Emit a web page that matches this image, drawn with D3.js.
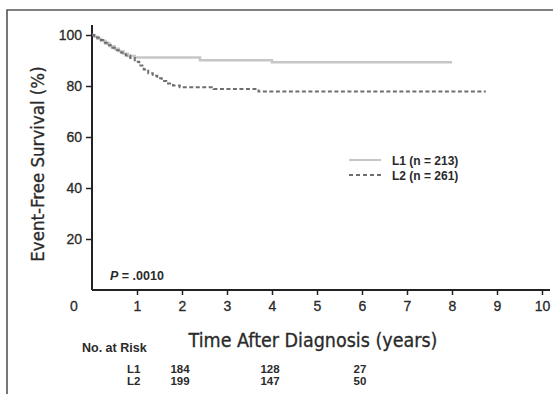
<!DOCTYPE html>
<html>
<head>
<meta charset="utf-8">
<script src="https://cdn.jsdelivr.net/npm/d3@7"></script>
<style>
  body { margin: 0; background: #fff; }
  svg text { font-family: "Liberation Sans", Arial, sans-serif; fill: #2a2a2a; }
  .title { font-family: "DejaVu Sans Condensed", "DejaVu Sans", sans-serif; stroke: #2a2a2a; stroke-width: 0.3px; }
</style>
</head>
<body>
<div id="chartDiv"></div>
<script>
// Kaplan-Meier steps
var l1Times = [0, 0.05, 0.12, 0.2, 0.3, 0.4, 0.5, 0.6, 0.7, 0.8, 0.95, 2.4, 4.0, 8.0];
var l1Surv  = [100, 99.3, 98.5, 97.6, 96.6, 95.6, 94.6, 93.6, 92.6, 91.8, 91.2, 90.1, 89.3, 89.3];
var l2Times = [0, 0.05, 0.15, 0.25, 0.35, 0.45, 0.55, 0.65, 0.75, 0.85, 0.95, 1.05, 1.15, 1.25, 1.35, 1.45, 1.55, 1.65, 1.8, 1.95, 2.7, 3.7, 8.75];
var l2Surv  = [100, 99, 98, 97, 96, 95, 94, 93, 92, 91, 89.5, 88, 86.5, 85, 84, 83, 82, 81, 80.2, 79.5, 78.8, 77.8, 77.8];

var xTicks = [1, 2, 3, 4, 5, 6, 7, 8, 9, 10];
var yTicks = [20, 40, 60, 80, 100];
var seriesNames = ["L1 (n = 213)", "L2 (n = 261)"];
var riskLabels = ["L1", "L2"];
var riskTimes = [2, 4, 6];
var riskL1 = [184, 128, 27];
var riskL2 = [199, 147, 50];

var width = 553, height = 394;

var svg = d3.select("#chartDiv").append("svg")
    .attr("width", width)
    .attr("height", height);

// outer frame (only left/top visible in crop)
svg.append("path")
    .attr("d", "M7,394 L7,10 L553,10")
    .attr("fill", "none")
    .attr("stroke", "#555")
    .attr("stroke-width", 1.6);

var x = d3.scaleLinear().domain([0, 10]).range([92, 542]);
var y = d3.scaleLinear().domain([0, 100]).range([290, 35]);

// axes
var xAxis = svg.append("g")
    .attr("transform", "translate(0," + y(0) + ")")
    .call(d3.axisBottom(x).tickValues(xTicks).tickSize(5).tickPadding(6).tickSizeOuter(0));
xAxis.select(".domain").attr("d", "M" + x(0) + ",0H" + 550);
var yAxis = svg.append("g")
    .attr("transform", "translate(" + x(0) + ",0)")
    .call(d3.axisLeft(y).tickValues(yTicks).tickSize(6).tickPadding(4).tickSizeOuter(0));
yAxis.select(".domain").attr("d", "M0,25V" + y(0));

svg.selectAll(".domain").attr("stroke", "#222").attr("stroke-width", 2);
svg.selectAll(".tick line").attr("stroke", "#222").attr("stroke-width", 1.5);
svg.selectAll(".tick text")
    .style("font-family", "Liberation Sans, Arial, sans-serif")
    .style("font-size", "14px")
    .attr("fill", "#2a2a2a")
    .attr("stroke", "#2a2a2a")
    .attr("stroke-width", 0.3);

// origin label
svg.append("text")
    .attr("x", 74).attr("y", 311)
    .attr("text-anchor", "middle")
    .style("font-size", "14px")
    .attr("stroke", "#2a2a2a")
    .attr("stroke-width", 0.3)
    .text("0");

// curves
var line = d3.line()
    .x(function (d) { return x(d[0]); })
    .y(function (d) { return y(d[1]); })
    .curve(d3.curveStepAfter);

var l1 = d3.zip(l1Times, l1Surv);
var l2 = d3.zip(l2Times, l2Surv);

svg.append("path").datum(l1)
    .attr("d", line)
    .attr("fill", "none")
    .attr("stroke", "#c6c6c6")
    .attr("stroke-width", 2.5);
svg.append("path").datum(l2)
    .attr("d", line)
    .attr("fill", "none")
    .attr("stroke", "#6e6e6e")
    .attr("stroke-width", 2)
    .attr("stroke-dasharray", "4,2.5");

// legend
var legend = svg.append("g");
var legendY = [160, 175];
legend.selectAll("line")
    .data(seriesNames).enter().append("line")
    .attr("x1", 349).attr("x2", 381)
    .attr("y1", function (d, i) { return legendY[i]; })
    .attr("y2", function (d, i) { return legendY[i]; })
    .attr("stroke", function (d, i) { return i == 0 ? "#c6c6c6" : "#6e6e6e"; })
    .attr("stroke-width", 2)
    .attr("stroke-dasharray", function (d, i) { return i == 0 ? null : "4,3"; });
legend.selectAll("text")
    .data(seriesNames).enter().append("text")
    .attr("x", 392)
    .attr("y", function (d, i) { return legendY[i] + 5; })
    .style("font-size", "12px")
    .style("font-weight", "bold")
    .attr("fill", "#444")
    .text(function (d) { return d; });

// P value
var pText = svg.append("text")
    .attr("x", 110).attr("y", 280)
    .style("font-size", "12.5px")
    .style("font-weight", "bold")
    .attr("fill", "#333");
pText.append("tspan").style("font-style", "italic").text("P");
pText.append("tspan").text(" = .0010");

// axis titles
svg.append("text")
    .attr("class", "title")
    .attr("transform", "translate(44,164) rotate(-90)")
    .attr("text-anchor", "middle")
    .style("font-size", "18.5px")
    .text("Event-Free Survival (%)");
svg.append("text")
    .attr("class", "title")
    .attr("x", 313).attr("y", 347)
    .attr("text-anchor", "middle")
    .style("font-size", "19.5px")
    .text("Time After Diagnosis (years)");

// numbers at risk
svg.append("text")
    .attr("x", 82).attr("y", 352)
    .style("font-size", "12.5px")
    .style("font-weight", "bold")
    .attr("fill", "#333")
    .text("No. at Risk");
var riskRows = [riskL1, riskL2];
var rowY = [373, 385];
riskRows.forEach(function (row, r) {
    svg.append("text")
        .attr("x", 127).attr("y", rowY[r])
        .style("font-size", "11.5px")
        .style("font-weight", "bold")
        .attr("fill", "#333")
        .text(riskLabels[r]);
    svg.selectAll(null)
        .data(row).enter().append("text")
        .attr("x", function (d, i) { return x(riskTimes[i]) - 2; })
        .attr("y", rowY[r])
        .attr("text-anchor", "middle")
        .style("font-size", "11.5px")
        .style("font-weight", "bold")
        .attr("fill", "#333")
        .text(function (d) { return d; });
});
</script>
</body>
</html>
